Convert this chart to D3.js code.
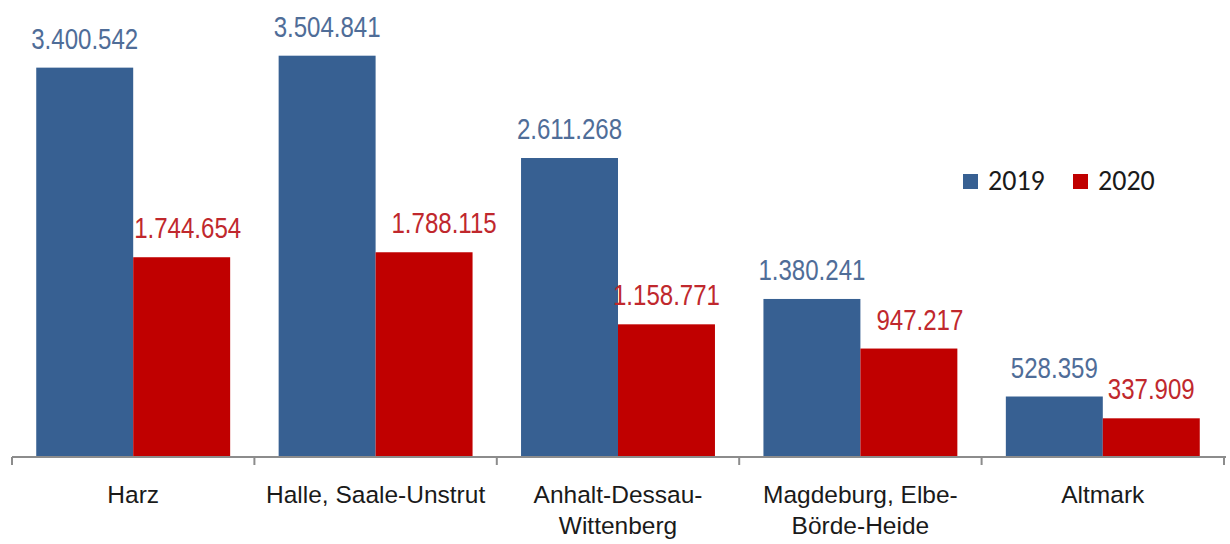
<!DOCTYPE html>
<html>
<head>
<meta charset="utf-8">
<script src="https://cdn.jsdelivr.net/npm/d3@7"></script>
<style>
  body { margin: 0; background: #fff; }
  svg { display: block; }
</style>
</head>
<body>
<svg id="chart" width="1230" height="544"></svg>
<script>
// regions and the two years
var regions = ["Harz", "Halle, Saale-Unstrut", "Anhalt-Dessau-Wittenberg", "Magdeburg, Elbe-Börde-Heide", "Altmark"];
var regionLines = [["Harz"], ["Halle, Saale-Unstrut"], ["Anhalt-Dessau-", "Wittenberg"], ["Magdeburg, Elbe-", "Börde-Heide"], ["Altmark"]];
var years = ["2019", "2020"];
var values2019 = [3400542, 3504841, 2611268, 1380241, 528359];
var values2020 = [1744654, 1788115, 1158771, 947217, 337909];

// labels of 2020 were nudged by hand in the original
var shift2020 = [6, 20, 0, 11, 0];

var barColor = { "2019": "#376092", "2020": "#c00000" };
var labelColor = { "2019": "#4f6d98", "2020": "#c0282d" };

var svg = d3.select("#chart");
var baseY = 457;

var x0 = d3.scaleBand().domain(regions).range([12, 1224]).padding(0);
var x1 = d3.scaleBand().domain(years).range([0, x0.bandwidth()]).paddingInner(0).paddingOuter(0.25);
var y = d3.scaleLinear().domain([0, 4000000]).range([baseY, baseY - 458]);

var fmt = function(v) { return d3.format(",")(v).replace(/,/g, "."); };

var data = regions.map(function(r, i) {
  return { region: r, lines: regionLines[i], vals: [
    { year: "2019", value: values2019[i], dx: 0 },
    { year: "2020", value: values2020[i], dx: shift2020[i] }
  ]};
});

var groups = svg.selectAll(".grp")
  .data(data)
  .enter().append("g")
  .attr("class", "grp")
  .attr("transform", function(d) { return "translate(" + x0(d.region) + ",0)"; });

groups.selectAll("rect")
  .data(function(d) { return d.vals; })
  .enter().append("rect")
  .attr("x", function(d) { return x1(d.year); })
  .attr("y", function(d) { return y(d.value); })
  .attr("width", x1.bandwidth())
  .attr("height", function(d) { return baseY - y(d.value); })
  .style("fill", function(d) { return barColor[d.year]; });

// value labels (narrow look)
groups.selectAll(".val")
  .data(function(d) { return d.vals; })
  .enter().append("text")
  .attr("class", "val")
  .attr("transform", function(d) {
    return "translate(" + (x1(d.year) + x1.bandwidth() / 2 + d.dx) + "," + (y(d.value) - 19) + ") scale(0.83,1)";
  })
  .attr("text-anchor", "middle")
  .style("font-family", "'Liberation Sans', Arial, sans-serif")
  .style("font-size", "29px")
  .style("fill", function(d) { return labelColor[d.year]; })
  .text(function(d) { return fmt(d.value); });

// axis
var axis = d3.axisBottom(x0).tickSize(0).tickFormat("");
var ax = svg.append("g").attr("transform", "translate(0," + baseY + ")").call(axis);
ax.select(".domain").attr("stroke", "#8c8c8c").attr("stroke-width", 2).attr("d", "M12,0H1226");
var tickXs = regions.map(function(r) { return x0(r); }).concat([x0.range()[1]]);
ax.selectAll(".sep")
  .data(tickXs)
  .enter().append("line")
  .attr("class", "sep")
  .attr("x1", function(d) { return d; })
  .attr("x2", function(d) { return d; })
  .attr("y1", 0).attr("y2", 8)
  .attr("stroke", "#8c8c8c").attr("stroke-width", 2);

// category labels
groups.each(function(d) {
  var t = d3.select(this).append("text")
    .attr("text-anchor", "middle")
    .style("font-family", "'Liberation Sans', Arial, sans-serif")
    .style("font-size", "24.5px")
    .style("fill", "#1a1a1a");
  d.lines.forEach(function(line, k) {
    t.append("tspan")
      .attr("x", x0.bandwidth() / 2)
      .attr("y", 503 + k * 31)
      .text(line);
  });
});

// legend
var legend = svg.append("g").attr("transform", "translate(963,174)");
var legX = [0, 110];
years.forEach(function(yr, i) {
  var g = legend.append("g").attr("transform", "translate(" + legX[i] + ",0)");
  g.append("rect").attr("width", 15).attr("height", 15).style("fill", barColor[yr]);
  g.append("text")
    .attr("x", 25).attr("y", 16)
    .style("font-family", "Carlito, 'Open Sans', sans-serif")
    .style("font-size", "28px")
    .style("fill", "#1a1a1a")
    .text(yr);
});
</script>
</body>
</html>
